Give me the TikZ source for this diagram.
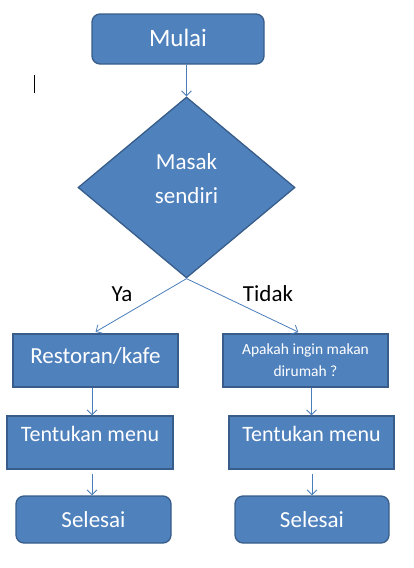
\documentclass[tikz,border=0pt]{standalone}
\usepackage{fontspec}
\setmainfont{Carlito}
\usetikzlibrary{shapes.geometric,arrows.meta}
\definecolor{boxfill}{HTML}{4F81BD}
\definecolor{boxline}{HTML}{385D8A}
\definecolor{arrowc}{HTML}{4A7EBB}
\begin{document}
\begin{tikzpicture}[x=1pt,y=-1pt,
  box/.style={draw=boxline, fill=boxfill, line width=1.3pt, text=white, inner sep=0pt, align=center},
  term/.style={box, rounded corners=8pt},
  conn/.style={draw=arrowc, line width=0.8pt, -{Straight Barb[length=5pt,width=10pt]}},
  lbl/.style={text=black, inner sep=0pt, font=\fontsize{23}{28}\selectfont}
]
\useasboundingbox (0,0) rectangle (414,568);
% cursor mark
\coordinate (cur1) at (34.5,75);
\coordinate (cur2) at (34.5,93);
\draw[black, line width=1.4pt] (cur1) -- (cur2);

\node[term, minimum width=172pt, minimum height=50pt, font=\fontsize{25}{30}\selectfont] (mulai) at (178,39) {\raisebox{1.5pt}{Mulai}};
\node[box, diamond, minimum width=217pt, minimum height=181pt, font=\fontsize{23}{34}\selectfont, align=none] (dia) at (186.5,187.5) {\raisebox{2pt}[0pt][0pt]{\begin{tabular}{@{}c@{}}Masak\\sendiri\end{tabular}}};

\node[box, minimum width=165pt, minimum height=53pt, font=\fontsize{23}{28}\selectfont, text height=17pt, text depth=11pt] (rk) at (95.5,360.5) {Restoran/kafe};
\node[box, minimum width=165pt, minimum height=53pt, font=\fontsize{15.5}{22}\selectfont] (ap) at (305.5,360.5) {Apakah ingin makan\\dirumah ?};

\node[box, minimum width=166pt, minimum height=53pt, font=\fontsize{22}{26}\selectfont, text height=15pt, text depth=17pt] (tl) at (90,442.5) {Tentukan menu};
\node[box, minimum width=165pt, minimum height=53pt, font=\fontsize{22}{26}\selectfont, text height=15pt, text depth=17pt] (tr) at (311.5,442.5) {Tentukan menu};

\node[term, minimum width=155pt, minimum height=47pt, font=\fontsize{23}{28}\selectfont] (sl) at (93.5,519.5) {Selesai};
\node[term, minimum width=154pt, minimum height=47pt, font=\fontsize{23}{28}\selectfont] (sr) at (312,519.5) {Selesai};

\node[lbl] (ya) at (122,294) {Ya};
\node[lbl] (tidak) at (268,294) {Tidak};

\draw[conn] (mulai.south -| dia.north) -- (dia.north);
\draw[conn, shorten >=3pt] (dia.south) -- ([xshift=-2.5pt]rk.north);
\draw[conn, shorten >=3pt] (dia.south) -- ([xshift=-4.5pt]ap.north);
\draw[conn] (rk.south -| 92,0) -- (tl.north -| 92,0);
\draw[conn] (ap.south -| tr.north) -- (tr.north);
\draw[conn, shorten <=4pt] (tl.south -| 92,0) -- (sl.north -| 92,0);
\draw[conn, shorten <=4pt] (tr.south -| sr.north) -- (sr.north);
\end{tikzpicture}
\end{document}
